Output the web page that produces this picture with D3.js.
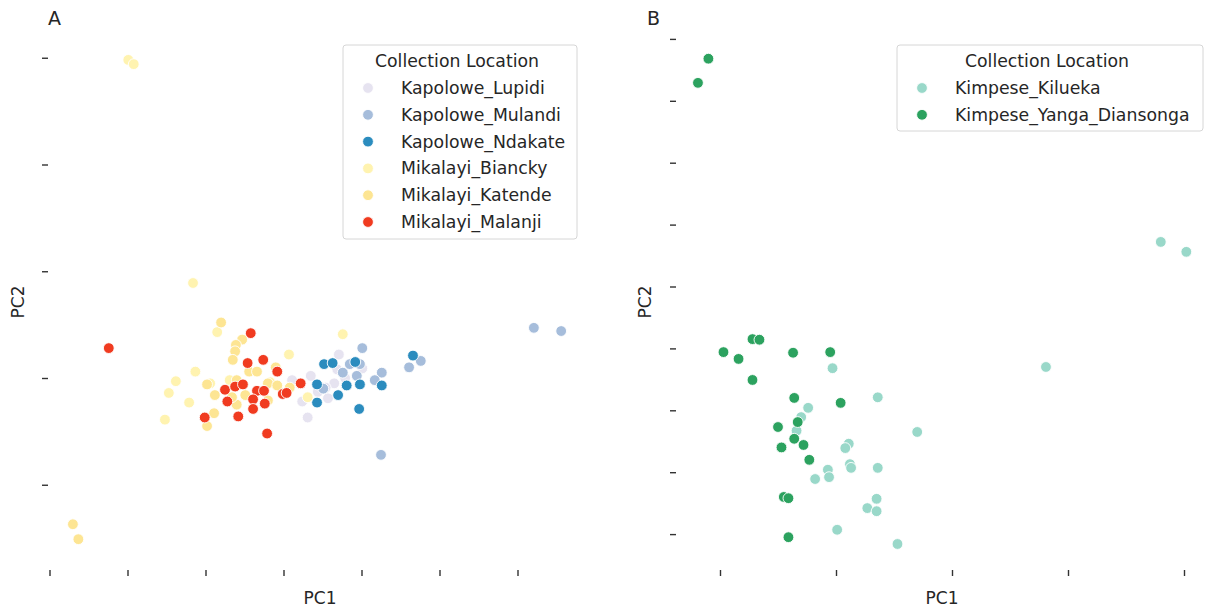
<!DOCTYPE html>
<html>
<head>
<meta charset="utf-8">
<script src="https://cdn.jsdelivr.net/npm/d3@7"></script>
<style>
  body { margin: 0; background: #fff; }
  svg text { font-family: "DejaVu Sans", sans-serif; fill: #262626; }
</style>
</head>
<body>
<div id="pca_fig"></div>
<script>
// Panel A groups: [PC1, PC2] pairs
var lupidi   = [[0.71,0.22],[0.35,0.02],[0.11,-0.02],[0.69,0.08],[0.65,-0.05],[0.79,0.00],[0.57,-0.19],
                [0.24,-0.22],[0.31,-0.37],[1.01,0.09],[0.44,-0.13],[0.54,-0.09]];
var mulandi  = [[1.01,0.28],[0.85,0.13],[0.98,0.13],[1.76,0.16],[1.61,0.10],[0.76,0.05],[0.94,0.02],
                [1.26,0.05],[1.17,-0.02],[0.51,-0.10],[1.25,-0.72],[3.21,0.47],[3.56,0.44]];
var ndakate  = [[0.52,0.13],[0.63,0.14],[0.92,0.15],[1.66,0.21],[0.43,-0.06],[0.81,-0.07],[0.98,-0.06],
                [1.26,-0.07],[0.70,-0.16],[0.43,-0.23],[0.97,-0.29]];
var biancky  = [[-1.99,2.98],[-1.92,2.94],[-1.16,0.89],[-0.85,0.43],[-1.13,0.06],[-1.38,-0.03],[-1.47,-0.14],
                [-1.21,-0.23],[-1.52,-0.39],[0.76,0.41],[0.07,0.22],[0.31,-0.18],[-0.94,-0.05],[-0.17,-0.04],[-0.69,-0.02]];
var katende  = [[-2.70,-1.37],[-2.63,-1.51],[-0.80,0.52],[-0.53,0.36],[-0.61,0.31],[-0.62,0.25],[-0.65,0.17],
                [-0.10,0.10],[-0.44,0.06],[-0.98,-0.06],[-0.88,-0.16],[-0.60,-0.02],[-0.60,-0.25],[-0.89,-0.33],
                [-0.98,-0.45],[-0.34,0.06],[-0.20,-0.05],[-0.08,-0.07],[0.08,-0.09],[-0.66,-0.18],[-0.49,-0.16],[-0.20,-0.21]];
var malanji  = [[-2.24,0.28],[-0.42,0.42],[-0.46,0.14],[-0.26,0.17],[-0.08,0.06],[-0.75,-0.11],[-0.62,-0.08],
                [-0.52,-0.06],[-0.34,-0.12],[-0.25,-0.12],[-0.39,-0.20],[-0.72,-0.22],[-0.24,-0.24],[-0.01,-0.15],
                [0.04,-0.14],[0.22,-0.05],[-0.39,-0.29],[-0.58,-0.36],[-1.01,-0.37],[-0.21,-0.52]];

// Panel B groups
var kilueka  = [[1.80,0.72],[2.02,0.56],[0.81,-1.30],[-1.03,-1.32],[-0.64,-1.79],[-1.24,-1.96],[-1.30,-2.11],
                [-1.34,-2.33],[-0.30,-2.35],[-0.89,-2.54],[-0.92,-2.61],[-0.88,-2.87],[-0.87,-2.93],[-0.64,-2.93],
                [-1.07,-2.96],[-1.06,-3.08],[-1.18,-3.11],[-0.65,-3.43],[-0.73,-3.58],[-0.65,-3.63],[-0.99,-3.93],[-0.47,-4.16]];
var yanga    = [[-2.10,3.68],[-2.19,3.29],[-1.97,-1.06],[-1.84,-1.17],[-1.72,-0.85],[-1.66,-0.86],[-1.37,-1.07],
                [-1.05,-1.06],[-1.72,-1.51],[-1.36,-1.80],[-0.96,-1.88],[-1.33,-2.19],[-1.50,-2.27],[-1.36,-2.46],
                [-1.28,-2.56],[-1.47,-2.60],[-1.23,-2.80],[-1.45,-3.40],[-1.41,-3.42],[-1.41,-4.05]];

var groupsA = ["Kapolowe_Lupidi","Kapolowe_Mulandi","Kapolowe_Ndakate","Mikalayi_Biancky","Mikalayi_Katende","Mikalayi_Malanji"];
var pointsA = [lupidi, mulandi, ndakate, biancky, katende, malanji];
var colorsA = ["#e6e3f0","#a6bddb","#2b8cbe","#fff3b0","#fde593","#f03b20"];

var groupsB = ["Kimpese_Kilueka","Kimpese_Yanga_Diansonga"];
var pointsB = [kilueka, yanga];
var colorsB = ["#99d8c9","#2ca25f"];

// tick positions (labels hidden in the original)
var xTicksA = [-3,-2,-1,0,1,2,3];
var yTicksA = [-1,0,1,2,3];
var xTicksB = [-2,-1,0,1,2];
var yTicksB = [-4,-3,-2,-1,0,1,2,3,4];

var W = 1212, H = 608;
var svg = d3.select("#pca_fig").append("svg")
    .attr("width", W)
    .attr("height", H);

function drawPanel(cfg) {
    var x = d3.scaleLinear().domain(cfg.xDomain).range([cfg.left, cfg.right]);
    var y = d3.scaleLinear().domain(cfg.yDomain).range([cfg.bottom, cfg.top]);

    var xAxis = svg.append("g")
        .attr("transform", "translate(0," + (cfg.bottom + 1) + ")")
        .call(d3.axisBottom(x).tickValues(cfg.xTicks).tickFormat("").tickSize(6).tickSizeOuter(0));
    xAxis.select(".domain").remove();

    var yAxis = svg.append("g")
        .attr("transform", "translate(" + (cfg.left - 1) + ",0)")
        .call(d3.axisLeft(y).tickValues(cfg.yTicks).tickFormat("").tickSize(6).tickSizeOuter(0));
    yAxis.select(".domain").remove();
    svg.selectAll(".tick line").attr("stroke", "#333").attr("stroke-width", 1.4);

    // points, group by group
    cfg.points.forEach(function(pts, gi) {
        svg.append("g").selectAll("circle")
            .data(pts)
            .enter()
            .append("circle")
                .attr("cx", function(d) { return x(d[0]); })
                .attr("cy", function(d) { return y(d[1]); })
                .attr("r", 5.4)
                .style("fill", cfg.colors[gi])
                .style("stroke", "#fff")
                .style("stroke-width", 0.9);
    });

    // axis labels
    svg.append("text")
        .attr("x", cfg.xLabelX).attr("y", 604)
        .attr("text-anchor", "middle")
        .style("font-size", "17px")
        .text("PC1");
    svg.append("text")
        .attr("transform", "translate(" + cfg.yLabelX + ",302) rotate(-90)")
        .attr("text-anchor", "middle")
        .style("font-size", "17px")
        .text("PC2");

    // panel letter
    svg.append("text")
        .attr("x", cfg.letterX).attr("y", 25)
        .style("font-size", "19px")
        .text(cfg.letter);

    // legend
    var lg = svg.append("g");
    lg.append("rect")
        .attr("x", cfg.legX).attr("y", 45)
        .attr("width", cfg.legW).attr("height", 32 + 27 * cfg.names.length)
        .attr("rx", 3)
        .style("fill", "#fff").style("fill-opacity", 0.8)
        .style("stroke", "#d6d6d6").style("stroke-width", 1);
    lg.append("text")
        .attr("x", cfg.legX + cfg.legW / 2 - 3).attr("y", 67)
        .attr("text-anchor", "middle")
        .style("font-size", "17.3px")
        .text("Collection Location");
    cfg.names.forEach(function(name, i) {
        var cy = 88 + 26.8 * i;
        lg.append("circle")
            .attr("cx", cfg.legX + 25).attr("cy", cy).attr("r", 5.4)
            .style("fill", cfg.colors[i]).style("stroke", "#fff").style("stroke-width", 0.9);
        lg.append("text")
            .attr("x", cfg.legX + 58).attr("y", cy + 6)
            .style("font-size", "17.3px")
            .text(name);
    });
}

drawPanel({
    left: 49, right: 584, top: 37, bottom: 569,
    xDomain: [(49 - 283.5) / 78, (584 - 283.5) / 78],
    yDomain: [-(569 - 378) / 106.75, (378 - 37) / 106.75],
    xTicks: xTicksA, yTicks: yTicksA,
    points: pointsA, colors: colorsA, names: groupsA,
    xLabelX: 320, yLabelX: 24, letter: "A", letterX: 48,
    legX: 343, legW: 234
});

drawPanel({
    left: 677, right: 1210, top: 37, bottom: 569,
    xDomain: [(677 - 952) / 116, (1210 - 952) / 116],
    yDomain: [-(569 - 286.5) / 61.9, (286.5 - 37) / 61.9],
    xTicks: xTicksB, yTicks: yTicksB,
    points: pointsB, colors: colorsB, names: groupsB,
    xLabelX: 942, yLabelX: 651, letter: "B", letterX: 647,
    legX: 897, legW: 306
});
</script>
</body>
</html>
